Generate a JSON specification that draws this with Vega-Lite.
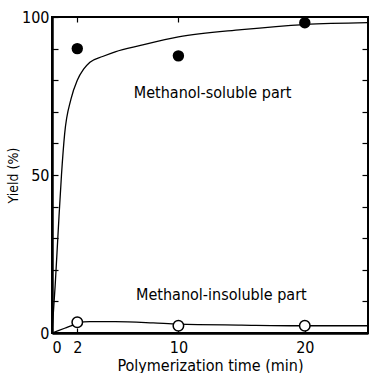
{
  "$schema": "https://vega.github.io/schema/vega-lite/v6.json",
  "autosize": "none",
  "width": 316,
  "height": 316,
  "padding": {"left": 52, "top": 17, "right": 2, "bottom": 40},
  "background": "white",
  "config": {
    "font": "Liberation Sans Narrow, DejaVu Sans Condensed, sans-serif",
    "view": {"stroke": "black", "strokeWidth": 2},
    "axis": {"grid": false, "domainColor": "black", "tickColor": "black", "labelColor": "black", "titleColor": "black", "labelFont": "Liberation Sans Narrow, DejaVu Sans Condensed, sans-serif", "titleFont": "Liberation Sans Narrow, DejaVu Sans Condensed, sans-serif"}
  },
  "datasets": {
    "soluble_curve": [
      {"t": 0, "y": 0}, {"t": 0.25, "y": 15}, {"t": 0.5, "y": 33}, {"t": 0.75, "y": 50},
      {"t": 1, "y": 63}, {"t": 1.5, "y": 74}, {"t": 2, "y": 80}, {"t": 2.5, "y": 83.5},
      {"t": 3, "y": 85.7}, {"t": 4, "y": 87.5}, {"t": 5, "y": 89}, {"t": 7, "y": 91},
      {"t": 10, "y": 93.7}, {"t": 15, "y": 96}, {"t": 20, "y": 97.6}, {"t": 25, "y": 98.2}
    ],
    "insoluble_curve": [
      {"t": 0, "y": 0}, {"t": 1, "y": 1.5}, {"t": 2, "y": 3}, {"t": 2.5, "y": 3.5},
      {"t": 3, "y": 3.6}, {"t": 5, "y": 3.6}, {"t": 8, "y": 3.2}, {"t": 10, "y": 2.8},
      {"t": 15, "y": 2.5}, {"t": 20, "y": 2.3}, {"t": 25, "y": 2.3}
    ],
    "soluble_pts": [{"t": 2, "y": 90}, {"t": 10, "y": 87.7}, {"t": 20, "y": 98.2}],
    "insoluble_pts": [{"t": 2, "y": 3.4}, {"t": 10, "y": 2.3}, {"t": 20, "y": 2.3}],
    "labels": [
      {"t": 12.7, "y": 76, "label": "Methanol-soluble part"},
      {"t": 13.4, "y": 12, "label": "Methanol-insoluble part"}
    ]
  },
  "resolve": {"axis": {"x": "independent", "y": "independent"}},
  "layer": [
    {
      "data": {"name": "soluble_curve"},
      "mark": {"type": "line", "color": "black", "strokeWidth": 1.3, "interpolate": "monotone"},
      "encoding": {
        "x": {"field": "t", "type": "quantitative", "scale": {"domain": [0, 25], "nice": false},
          "axis": {"orient": "bottom", "values": [0, 2, 10, 20], "tickSize": -5, "tickWidth": 1.2, "labelPadding": 11, "labelFontSize": 16, "domainWidth": 2.5, "title": "Polymerization time (min)", "titleFontSize": 16, "titleFontWeight": "normal", "titlePadding": 2}},
        "y": {"field": "y", "type": "quantitative", "scale": {"domain": [0, 100], "nice": false},
          "axis": {"orient": "left", "values": [0, 10, 20, 30, 40, 50, 60, 70, 80, 90, 100], "labelExpr": "datum.value % 50 == 0 ? datum.label : ''", "tickSize": -6, "tickWidth": 1.2, "labelPadding": 9, "labelFontSize": 16, "domainWidth": 2.5, "title": "Yield (%)", "titleFontSize": 14, "titleFontWeight": "normal", "titlePadding": 1}}
      }
    },
    {
      "data": {"name": "insoluble_curve"},
      "mark": {"type": "line", "color": "black", "strokeWidth": 1.3, "interpolate": "monotone"},
      "encoding": {
        "x": {"field": "t", "type": "quantitative",
          "axis": {"orient": "top", "values": [2, 10, 20], "tickSize": -5, "tickWidth": 1.2, "labels": false, "domain": false, "title": null}},
        "y": {"field": "y", "type": "quantitative",
          "axis": {"orient": "right", "values": [10, 20, 30, 40, 50, 60, 70, 80, 90], "tickSize": -6, "tickWidth": 1.2, "labels": false, "domain": false, "title": null}}
      }
    },
    {
      "data": {"name": "soluble_pts"},
      "mark": {"type": "point", "shape": "circle", "filled": true, "color": "black", "size": 130, "opacity": 1},
      "encoding": {
        "x": {"field": "t", "type": "quantitative", "axis": null},
        "y": {"field": "y", "type": "quantitative", "axis": null}
      }
    },
    {
      "data": {"name": "insoluble_pts"},
      "mark": {"type": "point", "shape": "circle", "filled": true, "fill": "white", "stroke": "black", "strokeWidth": 1.5, "size": 110, "opacity": 1},
      "encoding": {
        "x": {"field": "t", "type": "quantitative", "axis": null},
        "y": {"field": "y", "type": "quantitative", "axis": null}
      }
    },
    {
      "data": {"name": "labels"},
      "mark": {"type": "text", "fontSize": 16, "color": "black", "align": "center", "baseline": "middle"},
      "encoding": {
        "x": {"field": "t", "type": "quantitative", "axis": null},
        "y": {"field": "y", "type": "quantitative", "axis": null},
        "text": {"field": "label"}
      }
    }
  ]
}
